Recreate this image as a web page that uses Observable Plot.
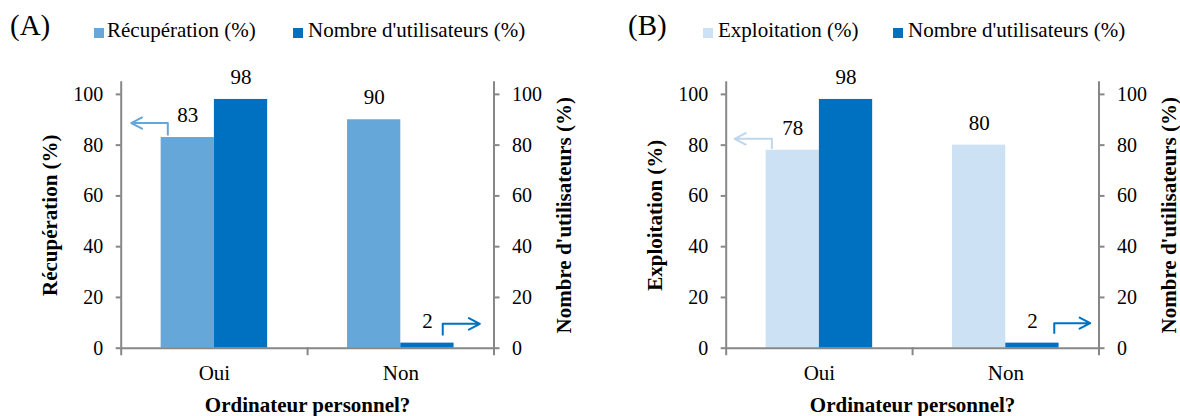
<!DOCTYPE html>
<html><head><meta charset="utf-8">
<script src="https://cdn.jsdelivr.net/npm/d3@7"></script>
<script src="https://cdn.jsdelivr.net/npm/@observablehq/plot@0.6"></script>
<style>
body{margin:0;width:1180px;height:416px;overflow:hidden;background:#fff;font-family:"Liberation Serif","Times New Roman",serif;color:#000;}
.panel{position:absolute;top:0;width:590px;height:416px;}
.hdr{position:absolute;left:0;top:0;width:590px;height:60px;}
.tag{position:absolute;font-size:29px;line-height:29px;white-space:nowrap;}
.sw{position:absolute;width:10px;height:10px;}
.lt{position:absolute;font-size:21px;line-height:21px;white-space:nowrap;}
.chart{position:absolute;left:0;top:60px;}
</style></head><body>
<div id="root"></div>
<script>
// ---- data ----
const categories = ["Oui", "Non"];
const recuperation = [83, 90];
const exploitation = [78, 80];
const utilisateurs = [98, 2];
const yTicks = [0, 20, 40, 60, 80, 100];
const usersName = "Nombre d'utilisateurs (%)";
const xTitle = "Ordinateur personnel?";

const GRAY = "#878787";
const DARK = "#0070C0";

function buildPanel(cfg) {
  const names = [cfg.name, usersName];
  const data = categories.flatMap((c, i) => [
    {cat: c, series: names[0], value: cfg.values[i]},
    {cat: c, series: names[1], value: utilisateurs[i]}
  ]);
  const dims = {width: 590, height: 356, marginTop: 21.7, marginBottom: 68.3, marginLeft: 120.7, marginRight: 96.5};
  const style = "font-family: 'Liberation Serif', 'Times New Roman', serif; font-size: 20px; color: #000; background: transparent; overflow: visible;";
  const main = Plot.plot({
    ...dims, style,
    fx: {domain: categories, padding: 0, round: false},
    x: {domain: names, paddingInner: 0, paddingOuter: 0.75, round: false, axis: null},
    y: {domain: [0, 104.8]},
    color: {domain: names, range: [cfg.light, DARK]},
    marks: [
      Plot.barY(data, {fx: "cat", x: "series", y: "value", fill: "series"}),
      Plot.text(data, {fx: "cat", x: "series", y: "value", text: d => String(d.value), dy: -22, fontSize: 21, fill: "#000"}),
      Plot.ruleY([0], {stroke: GRAY, strokeWidth: 2}),
      Plot.frame({anchor: "left", facetAnchor: "left", stroke: GRAY, strokeWidth: 2, insetBottom: -6}),
      Plot.frame({anchor: "right", facetAnchor: "right", stroke: GRAY, strokeWidth: 2, insetBottom: -6}),
      Plot.frame({anchor: "left", facetAnchor: "right", stroke: GRAY, strokeWidth: 2, insetTop: 266, insetBottom: -6}),
      Plot.axisY({anchor: "left", ticks: yTicks, tickSize: 5, tickPadding: 13, stroke: GRAY, strokeWidth: 2, fill: "#000", fontSize: 20, label: null}),
      Plot.axisY({anchor: "right", ticks: yTicks, tickSize: 5, tickPadding: 13, stroke: GRAY, strokeWidth: 2, fill: "#000", fontSize: 20, label: null}),
      Plot.text([cfg.name], {frameAnchor: "left", facetAnchor: "left", rotate: -90, dx: -70.7, textAnchor: "middle", lineAnchor: "middle", fontSize: 21, fontWeight: "bold", fill: "#000"}),
      Plot.text([usersName], {frameAnchor: "right", facetAnchor: "right", rotate: -90, dx: 70.5, textAnchor: "middle", lineAnchor: "middle", fontSize: 21, fontWeight: "bold", fill: "#000"}),
      Plot.axisFx({anchor: "bottom", tickSize: 0, tickPadding: 17, fontSize: 21, fill: "#000", label: null}),
      Plot.axisFx({anchor: "bottom", tickSize: 0, tickFormat: () => "", label: xTitle, labelAnchor: "center", labelOffset: 64, fontSize: 21, fontWeight: "bold", fill: "#000"})
    ]
  });
  const overlay = Plot.plot({
    ...dims, style,
    x: {domain: [0, 2], axis: null},
    y: {domain: [0, 104.8], axis: null},
    marks: cfg.arrows.flatMap(a => [
      Plot.link([a], {x1: "x", x2: "x", y1: "y1", y2: "y2", stroke: a.color, strokeWidth: 2}),
      Plot.arrow([a], {x1: "x", y1: "y2", x2: "tip", y2: "y2", stroke: a.color, strokeWidth: 2, headLength: 13, headAngle: 55})
    ])
  });

  const panel = document.createElement("div");
  panel.className = "panel";
  panel.style.left = cfg.left + "px";
  const hdr = document.createElement("div");
  hdr.className = "hdr";
  const tag = document.createElement("span");
  tag.className = "tag"; tag.textContent = cfg.tag;
  tag.style.left = cfg.tagX + "px"; tag.style.top = "10.7px";
  hdr.appendChild(tag);
  [[cfg.name, cfg.light, cfg.sw1, cfg.t1], [usersName, DARK, cfg.sw2, cfg.t2]].forEach(([label, color, sx, tx]) => {
    const sw = document.createElement("span");
    sw.className = "sw"; sw.style.background = color; sw.style.left = sx + "px"; sw.style.top = "28px";
    const t = document.createElement("span");
    t.className = "lt"; t.textContent = label; t.style.left = tx + "px"; t.style.top = "20.4px";
    hdr.appendChild(sw); hdr.appendChild(t);
  });
  panel.appendChild(hdr);
  const c1 = document.createElement("div"); c1.className = "chart"; c1.appendChild(main);
  const c2 = document.createElement("div"); c2.className = "chart"; c2.appendChild(overlay);
  panel.appendChild(c1); panel.appendChild(c2);
  document.getElementById("root").appendChild(panel);
}

buildPanel({
  left: 0, tag: "(A)", tagX: 10, name: "Récupération (%)", values: recuperation, light: "#66A7D9",
  sw1: 94, t1: 107, sw2: 293, t2: 308,
  arrows: [
    {x: 0.25, tip: 0.054, y1: recuperation[0] + 0.8, y2: recuperation[0] + 5.7, color: "#66A7D9"},
    {x: 1.725, tip: 1.924, y1: utilisateurs[1] + 3, y2: utilisateurs[1] + 7.6, color: DARK}
  ]
});
buildPanel({
  left: 605, tag: "(B)", tagX: 23, name: "Exploitation (%)", values: exploitation, light: "#CCE1F3",
  sw1: 98, t1: 113, sw2: 288, t2: 303,
  arrows: [
    {x: 0.245, tip: 0.045, y1: exploitation[0] + 0.5, y2: exploitation[0] + 4.5, color: "#BDD7EE"},
    {x: 1.76, tip: 1.953, y1: utilisateurs[1] + 3.7, y2: utilisateurs[1] + 7.85, color: DARK}
  ]
});
</script>
</body></html>
